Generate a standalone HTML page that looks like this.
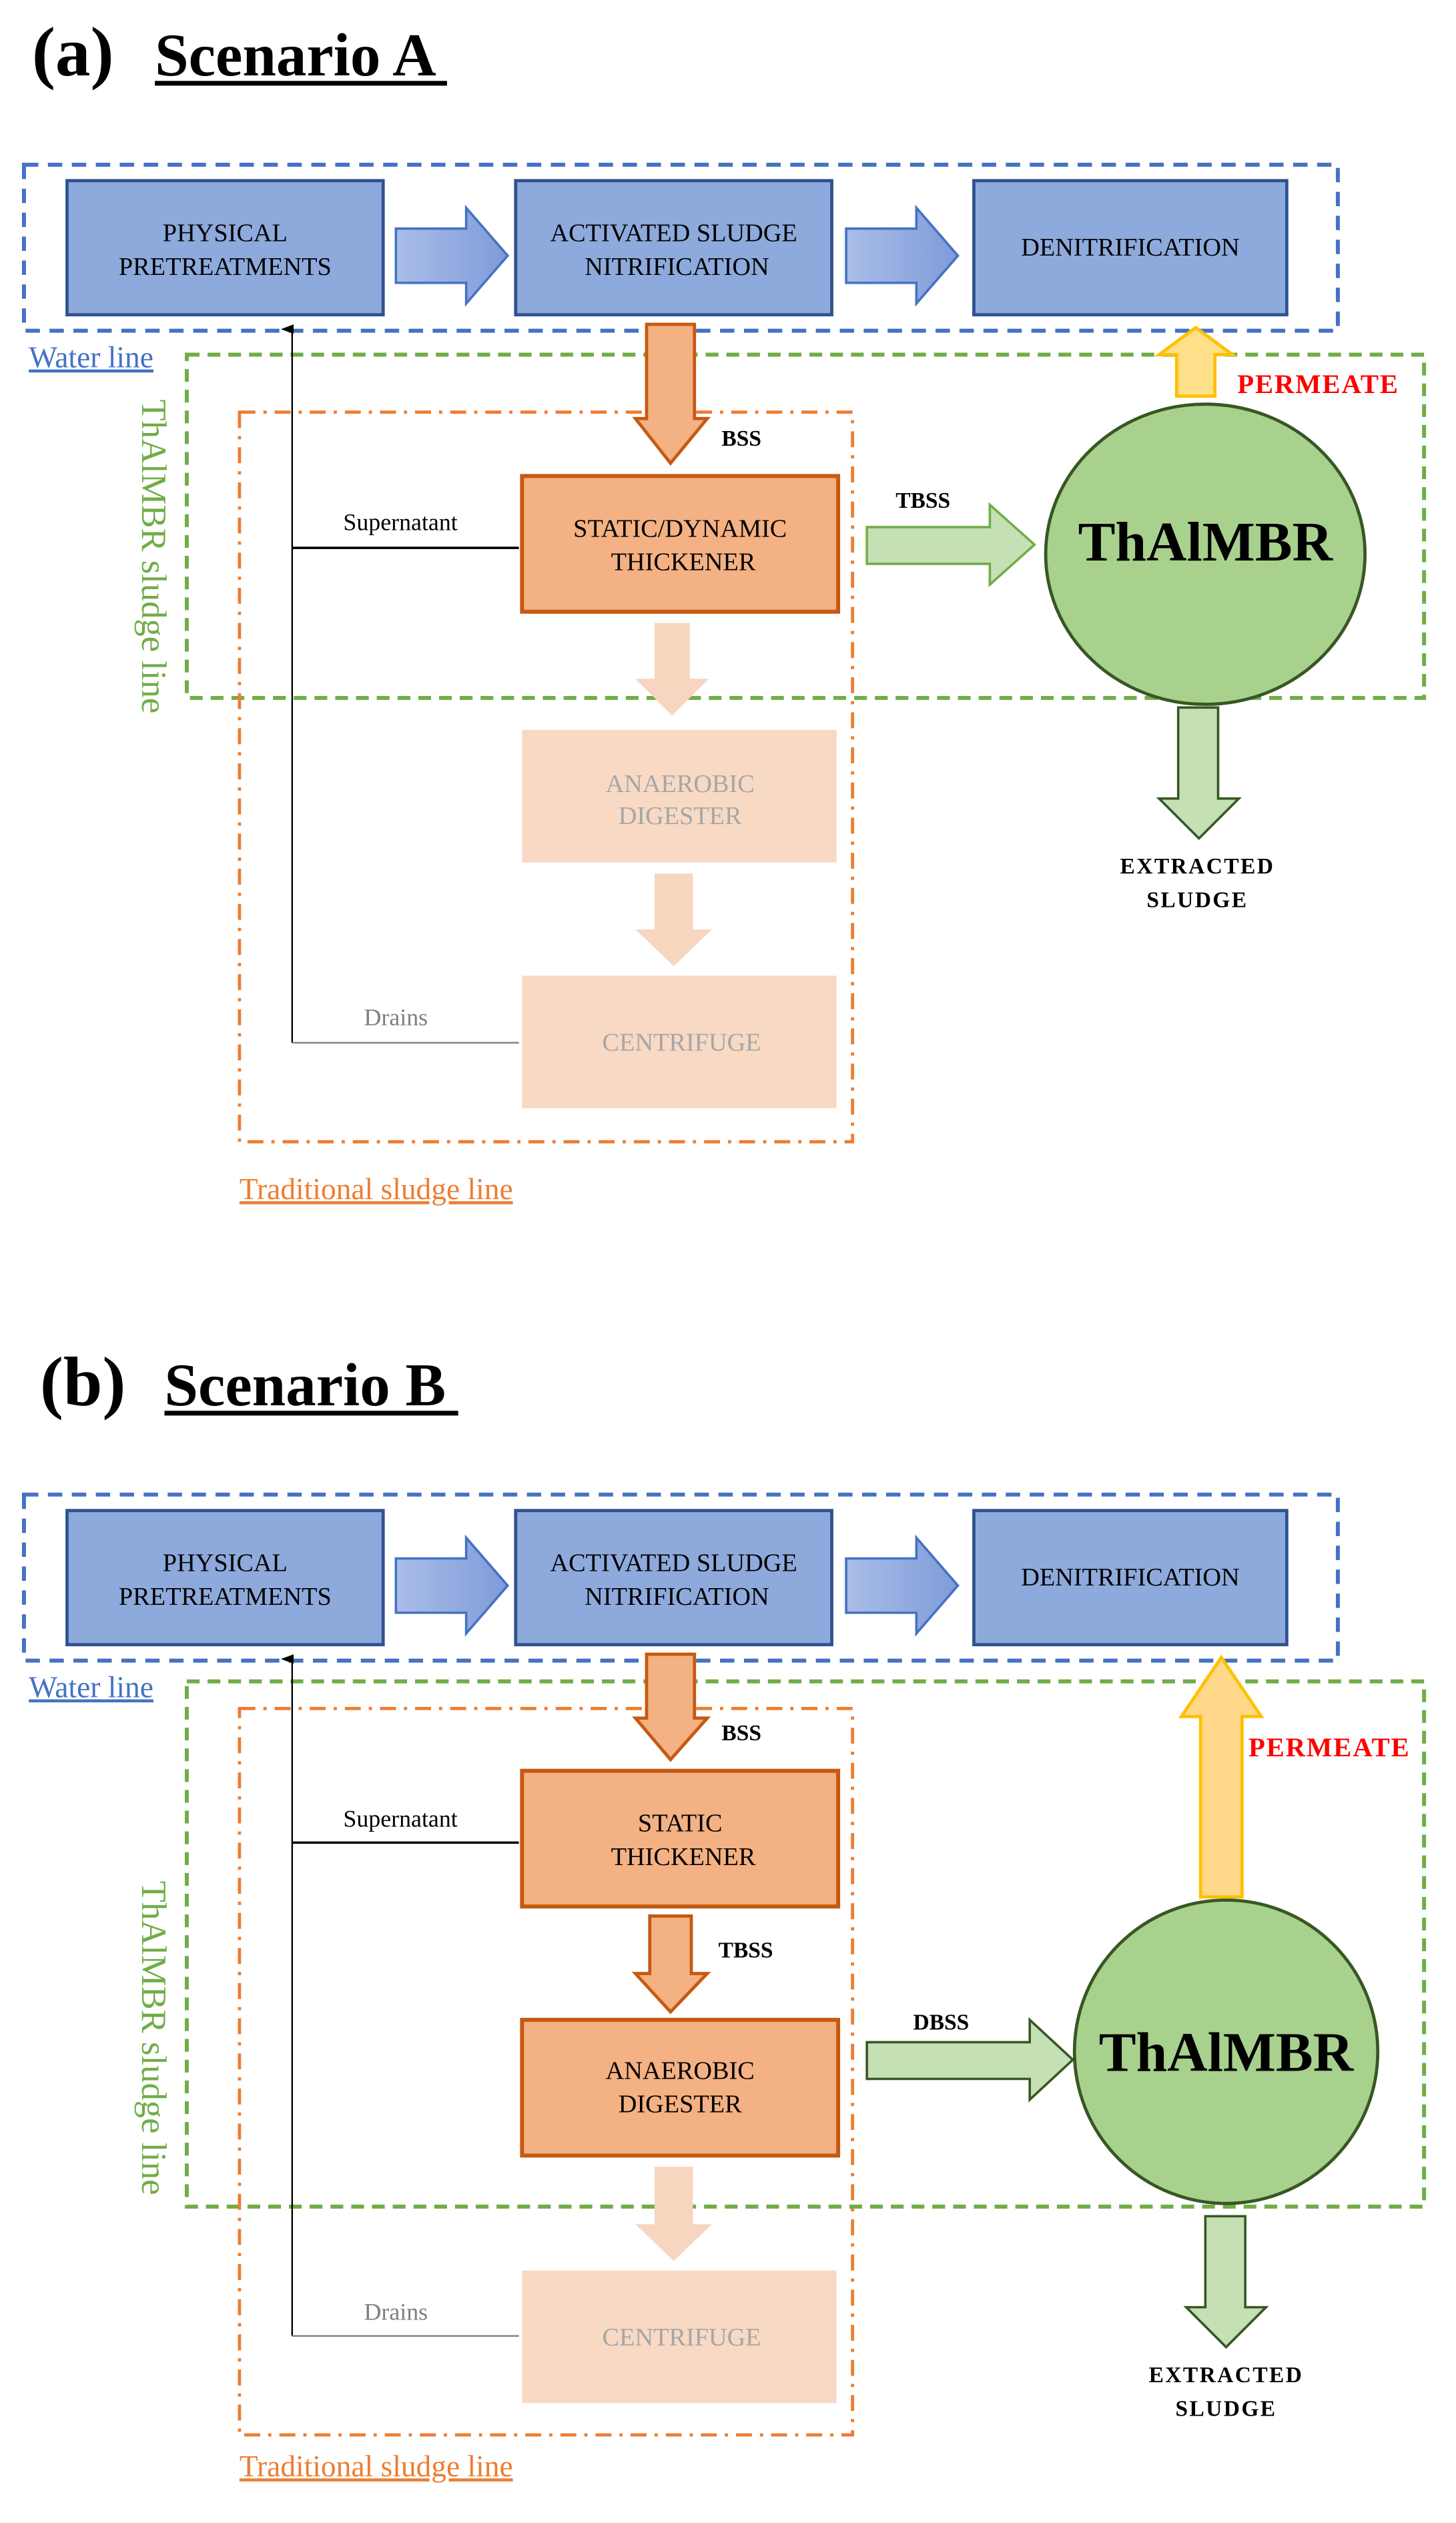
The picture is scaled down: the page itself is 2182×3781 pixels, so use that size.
<!DOCTYPE html>
<html><head><style>html,body{margin:0;padding:0;background:#fff}svg{display:block}</style></head>
<body>
<svg xmlns="http://www.w3.org/2000/svg" width="2182" height="3781" viewBox="0 0 912 1580" font-family="Liberation Serif, serif">
<defs>
<linearGradient id="bg" x1="0" x2="1" y1="0" y2="0"><stop offset="0" stop-color="#a9bde8"/><stop offset="1" stop-color="#7f9bd8"/></linearGradient>
<marker id="ah" markerWidth="8" markerHeight="8" refX="4" refY="7" orient="auto" markerUnits="userSpaceOnUse"><path d="M1,8 L4,0 L7,8 Z" fill="#000"/></marker>
</defs>
<rect width="912" height="1580" fill="#fff"/>

<!-- ===== Scenario A ===== -->
<text x="20" y="47" font-size="44" font-weight="bold">(a)</text>
<text x="97" y="47" font-size="38" font-weight="bold">Scenario A</text>
<line x1="97" y1="52" x2="280" y2="52" stroke="#000" stroke-width="3"/>

<rect x="15" y="103" width="823" height="104" fill="none" stroke="#4472c4" stroke-width="2.5" stroke-dasharray="9,6"/>
<rect x="117" y="222" width="775" height="215" fill="none" stroke="#70ad47" stroke-width="2.5" stroke-dasharray="8,5"/>
<rect x="150" y="258" width="384" height="457" fill="none" stroke="#ed7d31" stroke-width="2" stroke-dasharray="10,5,2,5"/>

<g fill="#8eaadc" stroke="#2f528f" stroke-width="2">
<rect x="42" y="113" width="198" height="84"/><rect x="323" y="113" width="198" height="84"/><rect x="610" y="113" width="196" height="84"/>
</g>
<g fill="url(#bg)" stroke="#4472c4" stroke-width="1.5">
<path d="M248,143 H292 V130 L318,160 L292,190 V177 H248 Z"/>
<path d="M530,143 H574 V130 L600,160 L574,190 V177 H530 Z"/>
</g>
<g font-size="16" text-anchor="middle" fill="#000">
<text x="141" y="151">PHYSICAL</text><text x="141" y="172">PRETREATMENTS</text>
<text x="422" y="151">ACTIVATED SLUDGE</text><text x="424" y="172">NITRIFICATION</text>
<text x="708" y="160">DENITRIFICATION</text>
</g>
<text x="18" y="230" font-size="19" fill="#4472c4" text-decoration="underline">Water line</text>
<text transform="translate(89,250) rotate(90)" font-size="22" fill="#70ad47">ThAlMBR sludge line</text>

<path d="M405,203 H435 V262 H443 L420,290 L398,262 H405 Z" fill="#f4b183" stroke="#c55a11" stroke-width="2"/>
<text x="452" y="279" font-size="14" font-weight="bold">BSS</text>
<rect x="327" y="298" width="198" height="85" fill="#f4b183" stroke="#c55a11" stroke-width="2.5"/>
<text x="426" y="336" font-size="16" text-anchor="middle">STATIC/DYNAMIC</text>
<text x="428" y="357" font-size="16" text-anchor="middle">THICKENER</text>

<line x1="325" y1="343" x2="183" y2="343" stroke="#000" stroke-width="1.5"/>
<line x1="183" y1="653" x2="183" y2="206" stroke="#000" stroke-width="1" marker-end="url(#ah)"/>
<line x1="325" y1="653" x2="183" y2="653" stroke="#7f7f7f" stroke-width="1"/>
<text x="215" y="332" font-size="15">Supernatant</text>
<text x="228" y="642" font-size="15" fill="#7f7f7f">Drains</text>

<path d="M410,390 H432 V425 H444 L421,448 L398,425 H410 Z" fill="#f8d5bf"/>
<rect x="327" y="457" width="197" height="83" fill="#f8d9c4"/>
<text x="426" y="496" font-size="16" text-anchor="middle" fill="#a6a6a6">ANAEROBIC</text>
<text x="426" y="516" font-size="16" text-anchor="middle" fill="#a6a6a6">DIGESTER</text>
<path d="M410,547 H434 V582 H446 L422,605 L398,582 H410 Z" fill="#f8d5bf"/>
<rect x="327" y="611" width="197" height="83" fill="#f8d9c4"/>
<text x="427" y="658" font-size="16" text-anchor="middle" fill="#a6a6a6">CENTRIFUGE</text>
<text x="150" y="751" font-size="19" fill="#ed7d31" text-decoration="underline">Traditional sludge line</text>

<path d="M543,330 H620 V316 L648,341 L620,366 V353 H543 Z" fill="#c5e0b4" stroke="#70ad47" stroke-width="1.5"/>
<text x="561" y="318" font-size="14" font-weight="bold">TBSS</text>
<ellipse cx="755" cy="347" rx="100" ry="94" fill="#a9d18e" stroke="#385723" stroke-width="2"/>
<text x="755" y="351" font-size="35" font-weight="bold" text-anchor="middle">ThAlMBR</text>

<path d="M737,248 V222 H726 L749,205 L772,222 H761 V248 Z" fill="#ffe08a" stroke="#ffc000" stroke-width="2"/>
<text x="775" y="246" font-size="17" font-weight="bold" fill="#ff0000" letter-spacing="0.8">PERMEATE</text>
<path d="M738,443 H763 V500 H776 L751,525 L726,500 H738 Z" fill="#c5e0b4" stroke="#385723" stroke-width="1.5"/>
<text x="750" y="547" font-size="14" font-weight="bold" text-anchor="middle" letter-spacing="1">EXTRACTED</text>
<text x="750" y="568" font-size="14" font-weight="bold" text-anchor="middle" letter-spacing="1">SLUDGE</text>

<!-- ===== Scenario B ===== -->
<text x="25" y="880" font-size="44" font-weight="bold">(b)</text>
<text x="103" y="880" font-size="38" font-weight="bold">Scenario B</text>
<line x1="103" y1="885" x2="287" y2="885" stroke="#000" stroke-width="3"/>

<rect x="15" y="936" width="823" height="104" fill="none" stroke="#4472c4" stroke-width="2.5" stroke-dasharray="9,6"/>
<rect x="117" y="1053" width="775" height="329" fill="none" stroke="#70ad47" stroke-width="2.5" stroke-dasharray="8,5"/>
<rect x="150" y="1070" width="384" height="455" fill="none" stroke="#ed7d31" stroke-width="2" stroke-dasharray="10,5,2,5"/>

<g fill="#8eaadc" stroke="#2f528f" stroke-width="2">
<rect x="42" y="946" width="198" height="84"/><rect x="323" y="946" width="198" height="84"/><rect x="610" y="946" width="196" height="84"/>
</g>
<g fill="url(#bg)" stroke="#4472c4" stroke-width="1.5">
<path d="M248,976 H292 V963 L318,993 L292,1023 V1010 H248 Z"/>
<path d="M530,976 H574 V963 L600,993 L574,1023 V1010 H530 Z"/>
</g>
<g font-size="16" text-anchor="middle" fill="#000">
<text x="141" y="984">PHYSICAL</text><text x="141" y="1005">PRETREATMENTS</text>
<text x="422" y="984">ACTIVATED SLUDGE</text><text x="424" y="1005">NITRIFICATION</text>
<text x="708" y="993">DENITRIFICATION</text>
</g>
<text x="18" y="1063" font-size="19" fill="#4472c4" text-decoration="underline">Water line</text>
<text transform="translate(89,1178) rotate(90)" font-size="22" fill="#70ad47">ThAlMBR sludge line</text>

<path d="M405,1036 H435 V1076 H443 L420,1102 L398,1076 H405 Z" fill="#f4b183" stroke="#c55a11" stroke-width="2"/>
<text x="452" y="1090" font-size="14" font-weight="bold">BSS</text>
<rect x="327" y="1109" width="198" height="85" fill="#f4b183" stroke="#c55a11" stroke-width="2.5"/>
<text x="426" y="1147" font-size="16" text-anchor="middle">STATIC</text>
<text x="428" y="1168" font-size="16" text-anchor="middle">THICKENER</text>

<line x1="325" y1="1154" x2="183" y2="1154" stroke="#000" stroke-width="1.5"/>
<line x1="183" y1="1463" x2="183" y2="1039" stroke="#000" stroke-width="1" marker-end="url(#ah)"/>
<line x1="325" y1="1463" x2="183" y2="1463" stroke="#7f7f7f" stroke-width="1"/>
<text x="215" y="1144" font-size="15">Supernatant</text>
<text x="228" y="1453" font-size="15" fill="#7f7f7f">Drains</text>

<path d="M407,1200 H433 V1236 H443 L420,1260 L398,1236 H407 Z" fill="#f4b183" stroke="#c55a11" stroke-width="2"/>
<text x="450" y="1226" font-size="14" font-weight="bold">TBSS</text>
<rect x="327" y="1265" width="198" height="85" fill="#f4b183" stroke="#c55a11" stroke-width="2.5"/>
<text x="426" y="1302" font-size="16" text-anchor="middle">ANAEROBIC</text>
<text x="426" y="1323" font-size="16" text-anchor="middle">DIGESTER</text>

<path d="M410,1357 H434 V1393 H446 L422,1416 L398,1393 H410 Z" fill="#f8d5bf"/>
<rect x="327" y="1422" width="197" height="83" fill="#f8d9c4"/>
<text x="427" y="1469" font-size="16" text-anchor="middle" fill="#a6a6a6">CENTRIFUGE</text>
<text x="150" y="1551" font-size="19" fill="#ed7d31" text-decoration="underline">Traditional sludge line</text>

<path d="M543,1279 H645 V1265 L672,1290 L645,1315 V1302 H543 Z" fill="#c5e0b4" stroke="#385723" stroke-width="1.5"/>
<text x="572" y="1271" font-size="14" font-weight="bold">DBSS</text>
<ellipse cx="768" cy="1285" rx="95" ry="95" fill="#a9d18e" stroke="#385723" stroke-width="2"/>
<text x="768" y="1297" font-size="35" font-weight="bold" text-anchor="middle">ThAlMBR</text>

<path d="M752,1188 V1075 H740 L765,1038 L790,1075 H778 V1188 Z" fill="#ffd88a" stroke="#ffc000" stroke-width="2"/>
<text x="782" y="1100" font-size="17" font-weight="bold" fill="#ff0000" letter-spacing="0.8">PERMEATE</text>
<path d="M755,1388 H780 V1445 H793 L768,1470 L743,1445 H755 Z" fill="#c5e0b4" stroke="#385723" stroke-width="1.5"/>
<text x="768" y="1492" font-size="14" font-weight="bold" text-anchor="middle" letter-spacing="1">EXTRACTED</text>
<text x="768" y="1513" font-size="14" font-weight="bold" text-anchor="middle" letter-spacing="1">SLUDGE</text>
</svg>
</body></html>
